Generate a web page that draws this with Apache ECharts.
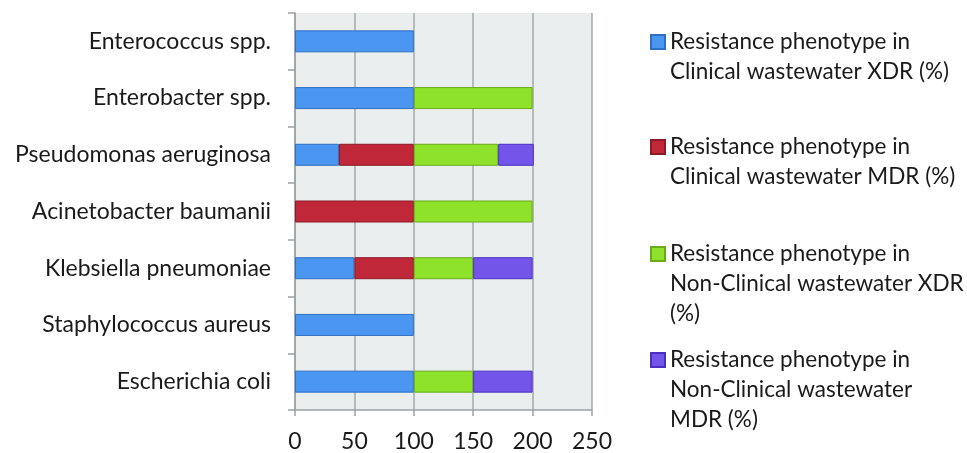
<!DOCTYPE html>
<html>
<head>
<meta charset="utf-8">
<script src="https://cdn.jsdelivr.net/npm/echarts@6/dist/echarts.min.js"></script>
<style>
  html, body { margin: 0; padding: 0; background: #ffffff; }
  #chart { width: 967px; height: 453px; }
</style>
</head>
<body>
<div id="chart"></div>
<script>
// Species, listed top to bottom
const categories = [
  'Enterococcus spp.',
  'Enterobacter spp.',
  'Pseudomonas aeruginosa',
  'Acinetobacter baumanii',
  'Klebsiella pneumoniae',
  'Staphylococcus aureus',
  'Escherichia coli'
];

// Resistance phenotype shares (%), same order as categories; null = no segment
const clinicalXDR    = [100, 100, 37, null, 50, 100, 100];
const clinicalMDR    = [null, null, 63, 100, 50, null, null];
const nonClinicalXDR = [null, 100, 71, 100, 50, null, 50];
const nonClinicalMDR = [null, null, 30, null, 50, null, 50];

const seriesNames = [
  'Resistance phenotype in\nClinical wastewater XDR (%)',
  'Resistance phenotype in\nClinical wastewater MDR (%)',
  'Resistance phenotype in\nNon-Clinical wastewater XDR\n(%)',
  'Resistance phenotype in\nNon-Clinical wastewater\nMDR (%)'
];

const xTicks = [0, 50, 100, 150, 200, 250];

const fills   = ['#4a96f0', '#c0283a', '#8fe22a', '#7355ea'];
const borders = ['#2f6fc4', '#8c1a27', '#6aab1c', '#4a30c0'];
const seriesData = [clinicalXDR, clinicalMDR, nonClinicalXDR, nonClinicalMDR];

const FONT = 'Lato';
const FS = 23;
const LEGEND_FS = 22.5;
const TEXT = '#1a1a1a';
const LINE_H = 30;

// one legend block per series; blank lines above the label keep the
// marker level with the label's first line
const legendFirstLine = [42, 147, 254, 360];
const legends = seriesNames.map((name, i) => {
  const lines = name.split('\n').length;
  const total = 2 * lines - 1;
  return {
    data: [name],
    left: 650,
    top: legendFirstLine[i] - (total * LINE_H) / 2,
    padding: 0,
    itemWidth: 14,
    itemHeight: 14,
    itemGap: 0,
    selectedMode: false,
    icon: 'rect',
    formatter: n => '\n'.repeat(lines - 1) + n,
    textStyle: {
      fontFamily: FONT,
      fontSize: LEGEND_FS,
      color: TEXT,
      lineHeight: LINE_H
    }
  };
});

const chart = echarts.init(document.getElementById('chart'), null, { renderer: 'canvas' });

chart.setOption({
  animation: false,
  backgroundColor: '#ffffff',
  legend: legends,
  grid: {
    left: 295,
    right: 375,
    top: 13,
    bottom: 42,
    show: true,
    backgroundColor: '#eaeeee',
    borderWidth: 0
  },
  xAxis: {
    type: 'value',
    min: xTicks[0],
    max: xTicks[xTicks.length - 1],
    interval: 50,
    axisLine: { show: true, lineStyle: { color: '#9aa2a2', width: 1.5 } },
    axisTick: { show: true, length: 6, lineStyle: { color: '#9aa2a2', width: 1.5 } },
    splitLine: { show: true, lineStyle: { color: '#a2aaaa', width: 1.5 } },
    axisLabel: {
      margin: 20,
      fontFamily: FONT,
      fontSize: FS,
      color: TEXT,
      formatter: v => (xTicks.includes(v) ? String(v) : '')
    }
  },
  yAxis: {
    type: 'category',
    data: categories,
    inverse: true,
    axisLine: { show: true, lineStyle: { color: '#9aa2a2', width: 1.5 } },
    axisTick: { show: true, length: 7, lineStyle: { color: '#9aa2a2', width: 1.5 } },
    splitLine: { show: false },
    axisLabel: {
      margin: 24,
      fontFamily: FONT,
      fontSize: FS,
      color: TEXT
    }
  },
  series: seriesNames.map((name, i) => ({
    name: name,
    type: 'bar',
    stack: 'total',
    barWidth: 22,
    data: seriesData[i],
    itemStyle: {
      color: fills[i],
      borderColor: borders[i],
      borderWidth: 1
    },
    emphasis: { disabled: true }
  }))
});
</script>
</body>
</html>
